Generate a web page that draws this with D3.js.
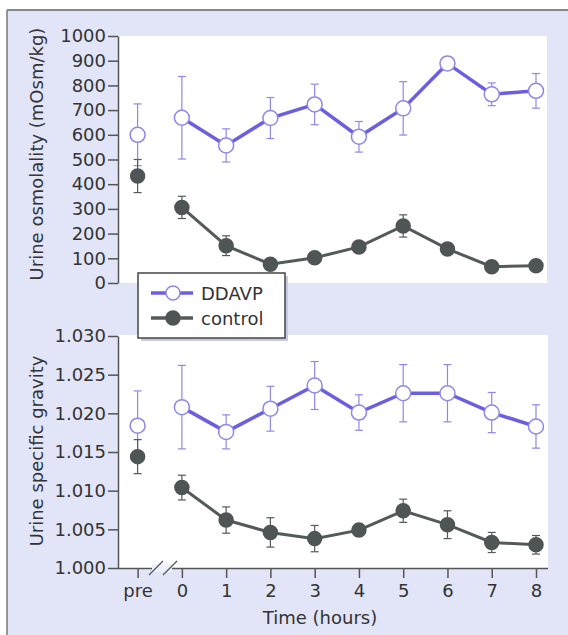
<!DOCTYPE html>
<html lang="en">
<head>
<meta charset="UTF-8">
<title>DDAVP vs control</title>
<script src="https://cdn.jsdelivr.net/npm/d3@7"></script>
<style>
    body { margin: 0; background: #fff; }
    svg text { font-family: "DejaVu Sans", sans-serif; fill: #333; }
</style>
</head>
<body>
<script>
    // time points: "pre" is drawn at -1, before the axis break
    const times = [-1, 0, 1, 2, 3, 4, 5, 6, 7, 8];
    const timeLabels = ["pre", "0", "1", "2", "3", "4", "5", "6", "7", "8"];

    // urine osmolality (mOsm/kg), mean and error
    const osmDdavp = [600, 669, 557, 668, 723, 592, 707, 889, 764, 778];
    const osmDdavpErr = [125, 167, 67, 83, 82, 62, 108, 8, 46, 70];
    const osmControl = [433, 306, 151, 76, 102, 146, 231, 138, 66, 70];
    const osmControlErr = [67, 45, 40, 8, 8, 8, 45, 15, 8, 8];

    // urine specific gravity
    const sgDdavp = [1.0184, 1.0208, 1.0176, 1.0206, 1.0236, 1.0201, 1.0226, 1.0226, 1.0201, 1.0183];
    const sgDdavpErr = [0.0045, 0.0054, 0.0022, 0.0029, 0.0031, 0.0023, 0.0037, 0.0037, 0.0026, 0.0028];
    const sgControl = [1.0144, 1.0104, 1.0062, 1.0046, 1.0038, 1.0049, 1.0074, 1.0056, 1.0033, 1.0030];
    const sgControlErr = [0.0022, 0.0016, 0.0017, 0.0019, 0.0017, 0.0008, 0.0015, 0.0018, 0.0013, 0.0012];

    const osmTicks = d3.range(0, 1001, 100);
    const sgTicks = [1.000, 1.005, 1.010, 1.015, 1.020, 1.025, 1.030];

    const width = 568, height = 635;
    const purple = "#6b5fe0", purpleLight = "#8f88e6", grey = "#545a5a";
    const fontSize = 18;

    const svg = d3.select("body").append("svg")
        .attr("width", width)
        .attr("height", height);

    // scanned page background with frame line
    svg.append("rect").attr("width", width).attr("height", height).attr("fill", "#fff");
    svg.append("rect").attr("x", 7).attr("y", 10).attr("width", width - 7).attr("height", height - 10)
        .attr("fill", "#e2e5f8");
    svg.append("line").attr("x1", 7).attr("x2", width).attr("y1", 10).attr("y2", 10)
        .attr("stroke", "#666").attr("stroke-width", 1.5);
    svg.append("line").attr("x1", 7).attr("x2", 7).attr("y1", 10).attr("y2", height)
        .attr("stroke", "#777").attr("stroke-width", 1.5);

    const x = d3.scaleLinear().domain([-1, 8]).range([137.6, 536]);

    const panels = [
        {
            top: 36, bottom: 283, right: 547, titleY: 154,
            y: d3.scaleLinear().domain([0, 1000]).range([283, 36]),
            ticks: osmTicks, fmt: d3.format("d"),
            title: "Urine osmolality (mOsm/kg)",
            ddavp: osmDdavp, ddavpErr: osmDdavpErr, control: osmControl, controlErr: osmControlErr
        },
        {
            top: 335, bottom: 568, right: 548, titleY: 451,
            y: d3.scaleLinear().domain([1.000, 1.030]).range([568, 336]),
            ticks: sgTicks, fmt: d3.format(".3f"),
            title: "Urine specific gravity",
            ddavp: sgDdavp, ddavpErr: sgDdavpErr, control: sgControl, controlErr: sgControlErr
        }
    ];

    const left = 118;

    panels.forEach(p => {
        svg.append("rect")
            .attr("x", left).attr("y", p.top)
            .attr("width", p.right - left).attr("height", p.bottom - p.top)
            .attr("fill", "#fff");

        const yAxis = svg.append("g")
            .attr("transform", `translate(${left},0)`)
            .call(d3.axisLeft(p.y).tickValues(p.ticks).tickFormat(p.fmt).tickSize(10).tickSizeOuter(0));
        yAxis.select(".domain").attr("stroke", "#555").attr("stroke-width", 1.5);
        yAxis.selectAll(".tick line").attr("stroke", "#555").attr("stroke-width", 1.5);
        yAxis.selectAll(".tick text").attr("font-size", fontSize).attr("x", -12).attr("fill", "#333");

        svg.append("text")
            .attr("transform", `translate(43,${p.titleY}) rotate(-90)`)
            .attr("text-anchor", "middle")
            .attr("font-size", fontSize)
            .text(p.title);

        const series = [
            { vals: p.ddavp, err: p.ddavpErr, line: purple, bar: purpleLight, open: true },
            { vals: p.control, err: p.controlErr, line: grey, bar: grey, open: false }
        ];

        series.forEach(s => {
            const pts = times.map((t, i) => ({ t, v: s.vals[i], e: s.err[i] }));

            const bars = svg.append("g");
            pts.forEach(d => {
                const y0 = p.y(d.v - d.e), y1 = p.y(d.v + d.e);
                bars.append("line").attr("x1", x(d.t)).attr("x2", x(d.t)).attr("y1", y0).attr("y2", y1)
                    .attr("stroke", s.bar).attr("stroke-width", 1.2);
                [y0, y1].forEach(yy => bars.append("line")
                    .attr("x1", x(d.t) - 4).attr("x2", x(d.t) + 4).attr("y1", yy).attr("y2", yy)
                    .attr("stroke", s.bar).attr("stroke-width", 1.2));
            });

            svg.append("path")
                .datum(pts.filter(d => d.t >= 0))
                .attr("fill", "none")
                .attr("stroke", s.line)
                .attr("stroke-width", s.open ? 3.5 : 3)
                .attr("d", d3.line().x(d => x(d.t)).y(d => p.y(d.v)));

            svg.append("g").selectAll("circle")
                .data(pts)
                .enter().append("circle")
                .attr("cx", d => x(d.t))
                .attr("cy", d => p.y(d.v))
                .attr("r", s.open ? 7.5 : 7)
                .attr("fill", s.open ? "#fff" : "#4f5555")
                .attr("stroke", s.open ? purpleLight : "#4f5555")
                .attr("stroke-width", 1.5);
        });
    });

    // x axis on the lower panel
    const xAxis = svg.append("g")
        .attr("transform", "translate(0,568)")
        .call(d3.axisBottom(x).tickValues(times).tickFormat((d, i) => timeLabels[i]).tickSize(10).tickSizeOuter(0));
    xAxis.select(".domain").attr("d", `M${left},0.5H548`).attr("stroke", "#555").attr("stroke-width", 1.5);
    xAxis.selectAll(".tick line").attr("stroke", "#555").attr("stroke-width", 1.5);
    xAxis.selectAll(".tick text").attr("font-size", fontSize).attr("y", 16).attr("fill", "#333");

    // axis break marks
    const brk = svg.append("g");
    brk.append("rect").attr("x", 152).attr("y", 564).attr("width", 20).attr("height", 8).attr("fill", "#eef0fb");
    [149, 163].forEach(bx => brk.append("line")
        .attr("x1", bx).attr("y1", 575).attr("x2", bx + 14).attr("y2", 561)
        .attr("stroke", "#555").attr("stroke-width", 1.3));

    svg.append("text")
        .attr("x", 320).attr("y", 624)
        .attr("text-anchor", "middle")
        .attr("font-size", fontSize)
        .text("Time (hours)");

    // legend
    const legend = svg.append("g").attr("transform", "translate(138,273)");
    legend.append("rect").attr("x", 3).attr("y", 3).attr("width", 147).attr("height", 65).attr("fill", "#c8cbe0");
    legend.append("rect").attr("width", 147).attr("height", 65)
        .attr("fill", "#fff").attr("stroke", "#444").attr("stroke-width", 1.5);
    const legendItems = [
        { label: "DDAVP", line: purple, fill: "#fff", stroke: purpleLight },
        { label: "control", line: grey, fill: "#4f5555", stroke: "#4f5555" }
    ];
    legendItems.forEach((d, i) => {
        const yy = 20 + i * 25;
        legend.append("line").attr("x1", 13).attr("x2", 55).attr("y1", yy).attr("y2", yy)
            .attr("stroke", d.line).attr("stroke-width", 3.5);
        legend.append("circle").attr("cx", 35).attr("cy", yy).attr("r", 7)
            .attr("fill", d.fill).attr("stroke", d.stroke).attr("stroke-width", 1.5);
        legend.append("text").attr("x", 63).attr("y", yy + 7).attr("font-size", fontSize).text(d.label);
    });
</script>
</body>
</html>
